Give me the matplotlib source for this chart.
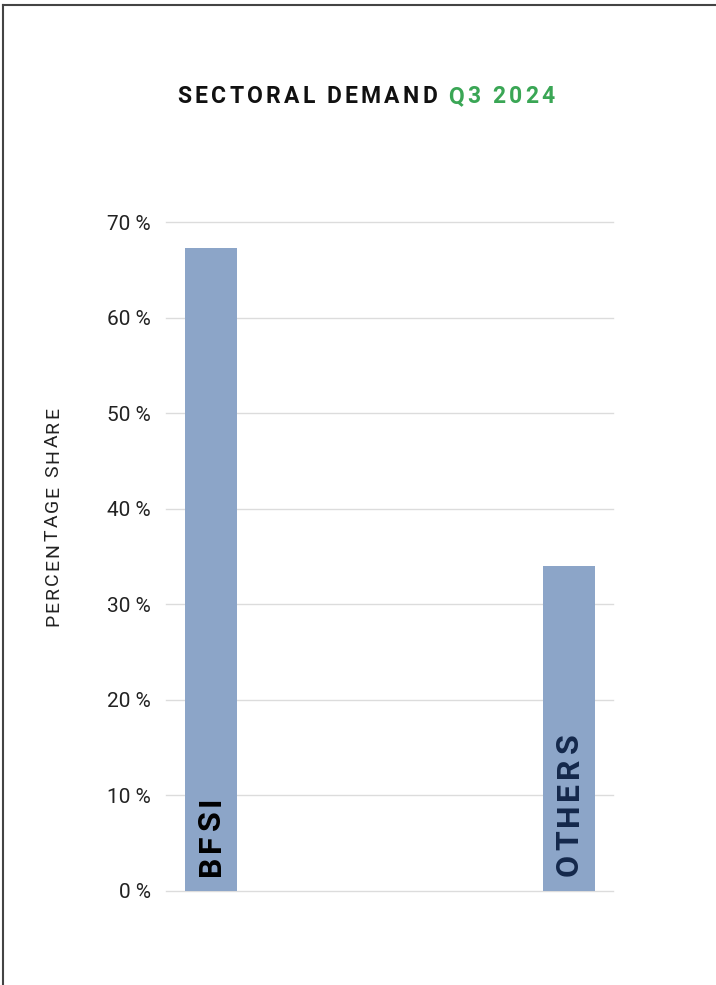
import numpy as np
import matplotlib
matplotlib.use("Agg")
import matplotlib.pyplot as plt
from matplotlib.lines import Line2D

## data
categories = ["BFSI", "OTHERS"]
shares = [67.3, 34.0]
label_colors = ["#000000", "#14284b"]
yticks = [0, 10, 20, 30, 40, 50, 60, 70]
title_parts = [("SECTORAL DEMAND ", "#111111"), ("Q3 2024", "#3aa655")]

plt.rcParams['font.family'] = ['Roboto', 'DejaVu Sans']

W, H = 716, 985
fig = plt.figure(figsize=(W/100, H/100), dpi=100)
ax = fig.add_axes([166/W, 94/H, 447/W, 669/H])
r = fig.canvas.get_renderer()


def char_sizes(chars, size, weight, rotation):
    # ink size of each char along the writing direction, in pixels
    out = []
    for ch in chars:
        if ch == " ":
            out.append(size * 0.32)
            continue
        t = fig.text(0, 0, ch, fontsize=size, fontweight=weight, rotation=rotation)
        bb = t.get_window_extent(r)
        out.append(bb.height if rotation == 90 else bb.width)
        t.remove()
    return out


def spaced_text(x, y, chars, colors, size, weight, rotation=0, spacing=None,
                length=None, anchor='center'):
    # draws letter-spaced text char by char; x, y in display pixels (y up)
    sizes = char_sizes(chars, size, weight, rotation)
    if spacing is None:
        spacing = (length - sum(sizes)) / (len(chars) - 1)
    total = sum(sizes) + spacing * (len(chars) - 1)
    pos = -total / 2 if anchor == 'center' else 0
    for ch, col, s in zip(chars, colors, sizes):
        if ch != " ":
            if rotation == 90:
                fig.text(x / W, (y + pos) / H, ch, fontsize=size, fontweight=weight,
                         color=col, rotation=90, ha='center', va='bottom')
            else:
                fig.text((x + pos) / W, y / H, ch, fontsize=size, fontweight=weight,
                         color=col, ha='left', va='baseline')
        pos += s + spacing


x = np.arange(len(categories))
ax.bar(x, shares, width=0.145, color="#8ca5c8", zorder=2)
ax.set_xlim(-0.126, 1.123)
ax.set_ylim(0, 70)

ax.set_yticks(yticks)
ax.set_yticklabels(["{} %".format(v) for v in yticks], fontsize=15, color="#222222")
ax.set_xticks([])
ax.tick_params(axis='y', length=0, pad=11)
ax.grid(axis='y', color="#dcdcdc", linewidth=1, zorder=0)
for gl in ax.get_ygridlines():
    gl.set_clip_on(False)
for s in ax.spines.values():
    s.set_visible(False)

# labels inside the bars, letter spaced
for xi, cat, c in zip(x, categories, label_colors):
    xd = ax.transData.transform((xi, 0))[0]
    spaced_text(xd, H - 876, list(cat), [c] * len(cat), 23, 'bold',
                rotation=90, spacing=4, anchor='start')

# y axis title
ylab = "PERCENTAGE SHARE"
spaced_text(53, H - 517, list(ylab), ["#222222"] * len(ylab), 14, 'normal',
            rotation=90, length=219)

# title
chars, cols = [], []
for txt, col in title_parts:
    for ch in txt:
        chars.append(ch)
        cols.append(col)
spaced_text(366, H - 103, chars, cols, 16.5, 'bold', length=377)

# frame lines (top and left only)
fig.add_artist(Line2D([3/W, 1], [1 - 5/H, 1 - 5/H], color="#444444", lw=1.5))
fig.add_artist(Line2D([3/W, 3/W], [0, 1 - 5/H], color="#444444", lw=1.5))

fig.savefig("out.png", dpi=100)
